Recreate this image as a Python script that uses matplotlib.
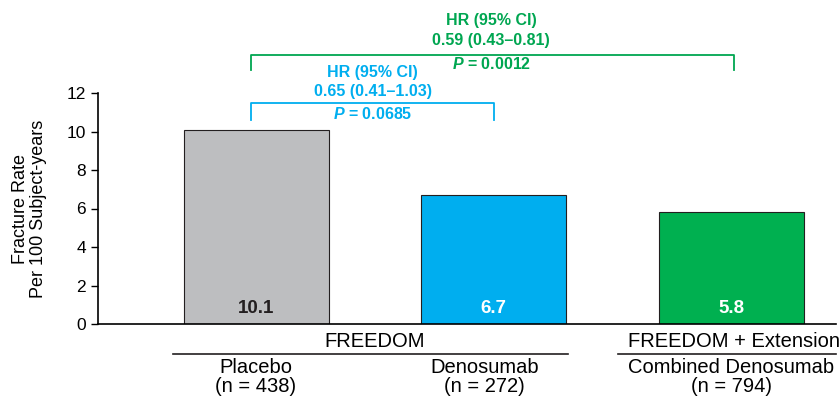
import matplotlib
matplotlib.use("Agg")
import matplotlib.pyplot as plt
from matplotlib.lines import Line2D
from matplotlib import transforms

plt.rcParams['font.family'] = ['Liberation Sans', 'DejaVu Sans']
plt.rcParams['mathtext.fontset'] = 'custom'
plt.rcParams['mathtext.rm'] = 'Liberation Sans'
plt.rcParams['mathtext.bf'] = 'Liberation Sans:bold'
plt.rcParams['mathtext.bfit'] = 'Liberation Sans:italic:bold'

# data
groups = ["Placebo", "Denosumab", "Combined Denosumab"]
n_labels = ["(n = 438)", "(n = 272)", "(n = 794)"]
rates = [10.1, 6.7, 5.8]
bar_colors = ["#BDBEC0", "#00AEEF", "#00B050"]
value_colors = ["#231F20", "white", "white"]
yticks = [0, 2, 4, 6, 8, 10, 12]
blue_txt = ["HR (95% CI)", "0.65 (0.41\u20131.03)", "$\\bfit{P}$ = 0.0685"]
green_txt = ["HR (95% CI)", "0.59 (0.43\u20130.81)", "$\\bfit{P}$ = 0.0012"]
BLUE = "#00AEEF"
GREEN = "#00A651"

fig = plt.figure(figsize=(8.4, 3.98), dpi=100)
ax = fig.add_axes([98/840, 1-324/398, (836-98)/840, 231/398])

x = [0, 1, 2]
ax.bar(x, rates, width=0.61, color=bar_colors, edgecolor="#231F20", linewidth=0.8)
for xi, r, c in zip(x, rates, value_colors):
    ax.text(xi, 0.83, f"{r}", ha="center", va="center", color=c,
            fontsize=13.5, fontweight="bold")

ax.set_xlim(-0.665, 2.44)
ax.set_ylim(0, 12)
ax.set_yticks(yticks)
ax.tick_params(axis="y", labelsize=12.5, length=5, width=1, direction="out")
ax.set_xticks([])
for s in ["top", "right"]:
    ax.spines[s].set_visible(False)
ax.spines["left"].set_linewidth(1.2)
ax.spines["bottom"].set_linewidth(1.2)
ax.set_ylabel("Fracture Rate\nPer 100 Subject-years", fontsize=13, linespacing=1.05)
ax.yaxis.set_label_coords(-0.069, 0.5)

# brackets
def bracket(x0, x1, ytop, ybot, col):
    ax.plot([x0, x0, x1, x1], [ybot, ytop, ytop, ybot], color=col, lw=1.3,
            clip_on=False)

bracket(-0.02, 1.0, 11.48, 10.6, BLUE)
bracket(-0.02, 2.01, 13.97, 13.2, GREEN)
for t, y in zip(blue_txt, [13.04, 12.1, 10.9]):
    ax.text(0.49, y, t, ha="center", va="center", color=BLUE,
            fontsize=11.5, fontweight="bold", clip_on=False)
for t, y in zip(green_txt, [15.79, 14.75, 13.5]):
    ax.text(0.99, y, t, ha="center", va="center", color=GREEN,
            fontsize=11.5, fontweight="bold", clip_on=False)

# group labels under the axis
trans = transforms.blended_transform_factory(ax.transData, ax.transAxes)
ax.text(0.5, -0.074, "FREEDOM", transform=trans, ha="center", va="center", fontsize=14.5)
ax.text(2.01, -0.074, "FREEDOM + Extension", transform=trans, ha="center", va="center", fontsize=14.5)
for xs in ([-0.35, 1.314], [1.524, 2.44]):
    ax.add_line(Line2D(xs, [-0.13, -0.13], transform=trans, color="#231F20",
                       lw=1.2, clip_on=False))
label_x = [0, 0.96, 2.0]
for xi, g, n in zip(label_x, groups, n_labels):
    ax.text(xi, -0.19, g, transform=trans, ha="center", va="center", fontsize=14.5)
    ax.text(xi, -0.272, n, transform=trans, ha="center", va="center", fontsize=14.5)

fig.savefig("out.png", dpi=100)
